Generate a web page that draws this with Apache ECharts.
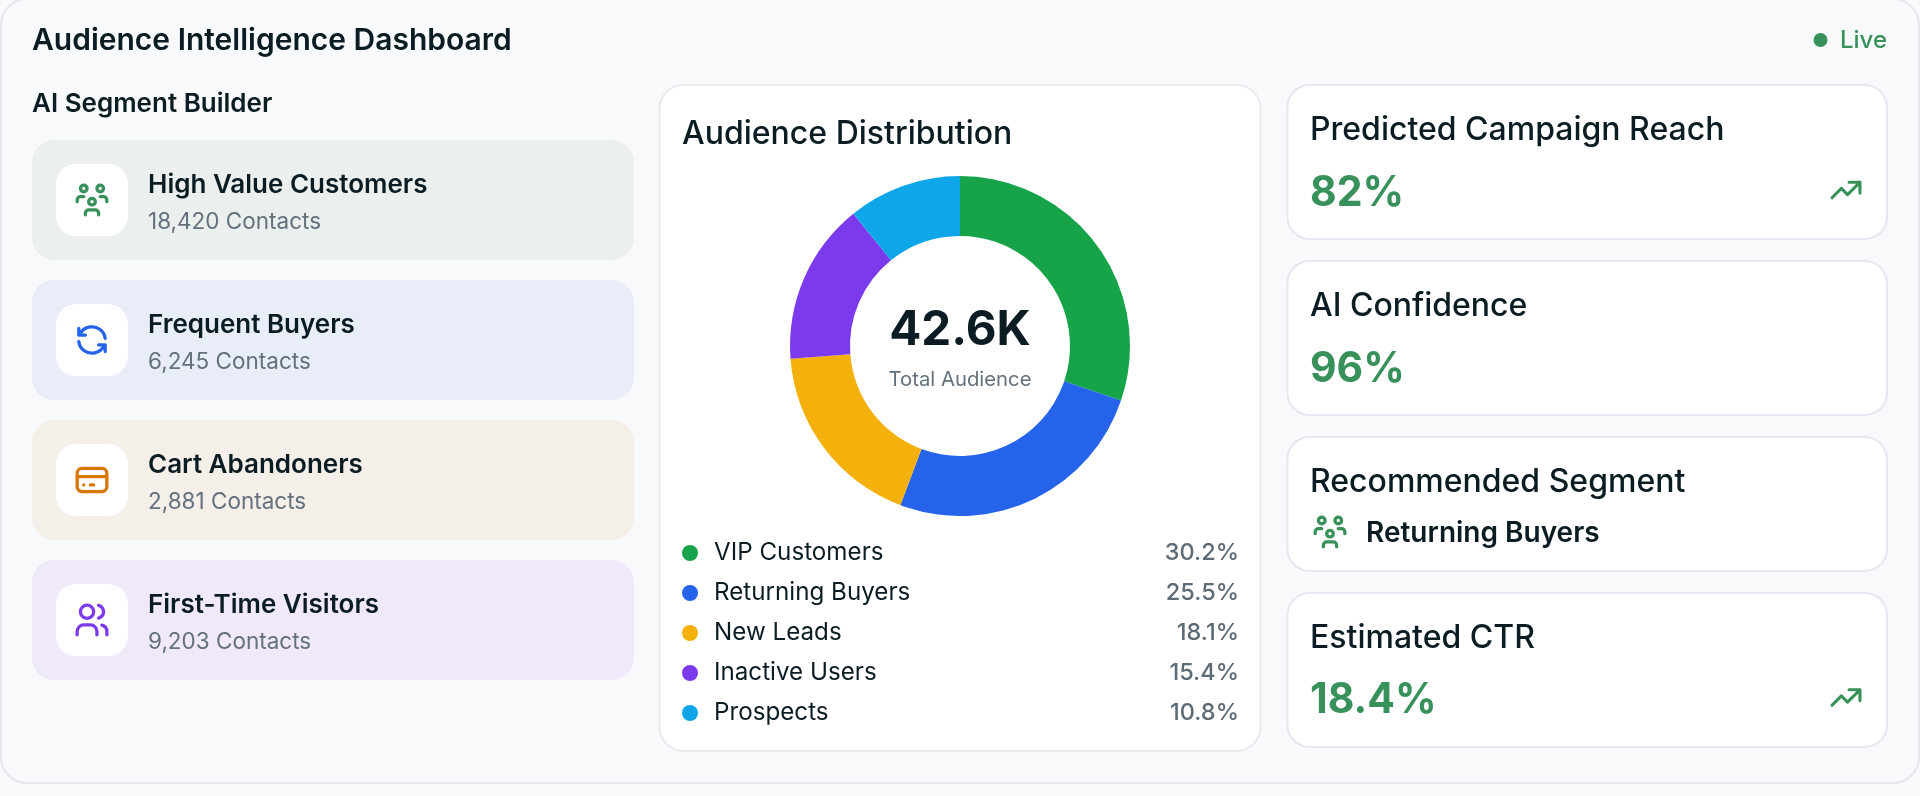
<!DOCTYPE html>
<html><head><meta charset="utf-8">
<style>html,body{margin:0;padding:0;background:#f8f9fb}#c{width:1920px;height:796px}</style>
<script src="https://cdn.jsdelivr.net/npm/echarts@6/dist/echarts.min.js"></script>
</head><body><div id="c"></div>
<script>
const distNames = ['VIP Customers','Returning Buyers','New Leads','Inactive Users','Prospects'];
const distValues = [30.2,25.5,18.1,15.4,10.8];
const distColors = ['#16a34a','#2563eb','#f4b00b','#7c3aed','#0ea5e9'];
const segNames = ['High Value Customers','Frequent Buyers','Cart Abandoners','First-Time Visitors'];
const segContacts = ['18,420 Contacts','6,245 Contacts','2,881 Contacts','9,203 Contacts'];
const statTitles = ['Predicted Campaign Reach','AI Confidence','Estimated CTR'];
const statValues = ['82%','96%','18.4%'];

const INK='#0b1c22', MUTED='#64717c', GREEN='#38915a', F='Inter';
const ICON={
 group:'M10 13a2 2 0 1 0 4 0a2 2 0 0 0 -4 0M8 21v-1a2 2 0 0 1 2 -2h4a2 2 0 0 1 2 2v1M15 5a2 2 0 1 0 4 0a2 2 0 0 0 -4 0M17 10h2a2 2 0 0 1 2 2v1M5 5a2 2 0 1 0 4 0a2 2 0 0 0 -4 0M3 13v-1a2 2 0 0 1 2 -2h2',
 refresh:'M20 11a8.1 8.1 0 0 0 -15.5 -2M4 5v4h4M4 13a8.1 8.1 0 0 0 15.5 2M20 19v-4h-4',
 card:'M3 8a3 3 0 0 1 3 -3h12a3 3 0 0 1 3 3v8a3 3 0 0 1 -3 3h-12a3 3 0 0 1 -3 -3zM3 10h18M7 15h.01M11 15h2',
 users:'M5 7a4 4 0 1 0 8 0a4 4 0 1 0 -8 0M3 21v-2a4 4 0 0 1 4 -4h4a4 4 0 0 1 4 4v2M16 3.13a4 4 0 0 1 0 7.75M21 21v-2a4 4 0 0 0 -3 -3.85',
 trend:'M3 17l6 -6l4 4l8 -8M14 7l7 0l0 7'
};
Object.keys(ICON).forEach(k=>echarts.graphic.registerShape('icon_'+k,echarts.graphic.extendPath(ICON[k],{})));
const g=[];
function rect(x,y,w,h,r,fill,stroke,lw){g.push({type:'rect',z:1,shape:{x,y,width:w,height:h,r},style:{fill,stroke:stroke||null,lineWidth:lw||0}});}
function text(s,x,base,size,weight,fill,align,sx){g.push({type:'text',z:10,x,y:base-0.364*size+2.2,scaleX:sx||1,style:{text:s,fill,font:weight+' '+size+'px '+F,align:align||'left',verticalAlign:'middle'}});}
function icon(name,cx,cy,s,color){g.push({type:'icon_'+name,z:10,x:cx-12*s,y:cy-12*s,scaleX:s,scaleY:s,style:{fill:'none',stroke:color,lineWidth:2,lineCap:'round',lineJoin:'round'}});}

rect(1,-1,1918,784,26,'#f8f9fb','#e3e6ec',2);
text('Audience Intelligence Dashboard',32,50,30,600,INK);
g.push({type:'circle',z:10,shape:{cx:1820.5,cy:40,r:7},style:{fill:GREEN}});
text('Live',1840,47,24,500,GREEN);
text('AI Segment Builder',32,111,26,600,INK);

const segBg=['#ebf0ee','#e9edf8','#f4efe9','#efe9f9'];
const segIcons=['group','refresh','card','users'];
const segIconColors=[GREEN,'#2563eb','#d97706','#7c3aed'];
segNames.forEach((n,i)=>{
  const top=140+140*i;
  rect(32,top,602,120,22,segBg[i]);
  rect(56,top+24,72,72,20,'#ffffff');
  icon(segIcons[i],92,top+60,1.65,segIconColors[i]);
  text(n,148,top+52.5,26,600,INK);
  text(segContacts[i],148,top+88.5,22.5,400,MUTED);
});

rect(659.5,85,601,666,24,'#ffffff','#e8ecef',2);
text('Audience Distribution',682,143.5,32,500,INK);
text('42.6K',960,346,47.5,700,INK,'center');
text('Total Audience',960,385.5,20.3,400,MUTED,'center');

const cards=[[85,154],[261,154],[437,134],[593,154]];
cards.forEach(c=>rect(1287.5,c[0],599.5,c[1],22,'#ffffff','#e5e8f0',2));
[[0,140,206,190],[1,316,382,null],[2,648,713,697.5]].forEach(([i,b1,b2,tr])=>{
  text(statTitles[i],1310,b1,32,500,INK);
  text(statValues[i],1310,b2,42,700,GREEN,'left',0.976);
  if(tr) icon('trend',1846,tr,1.55,GREEN);
});
text('Recommended Segment',1310,492,32,500,INK);
icon('group',1330,532,1.65,GREEN);
text('Returning Buyers',1366,542,28,600,INK);

const chart=echarts.init(document.getElementById('c'),null,{width:1920,height:796});
chart.setOption({
  animation:false,
  backgroundColor:'#f8f9fb',
  graphic:{elements:g},
  legend:{
    show:true,orient:'vertical',left:682,top:541,itemWidth:16,itemHeight:16,itemGap:16,
    icon:'circle',selectedMode:false,padding:0,
    data:distNames,
    formatter:n=>`{n|${n}}{v|${distValues[distNames.indexOf(n)].toFixed(1)}%}`,
    textStyle:{rich:{
      n:{fontFamily:F,fontSize:24.2,fontWeight:400,color:INK,width:380,lineHeight:24,padding:[0,0,0,11]},
      v:{fontFamily:F,fontSize:23.5,fontWeight:500,color:'#5d6b75',width:145,align:'right',lineHeight:24}
    }}
  },
  series:[{
    type:'pie',z:5,silent:true,center:[960,346],radius:[110,170],startAngle:90,clockwise:true,
    label:{show:false},labelLine:{show:false},
    data:distNames.map((n,i)=>({name:n,value:distValues[i],itemStyle:{color:distColors[i]}}))
  }]
});
</script></body></html>
